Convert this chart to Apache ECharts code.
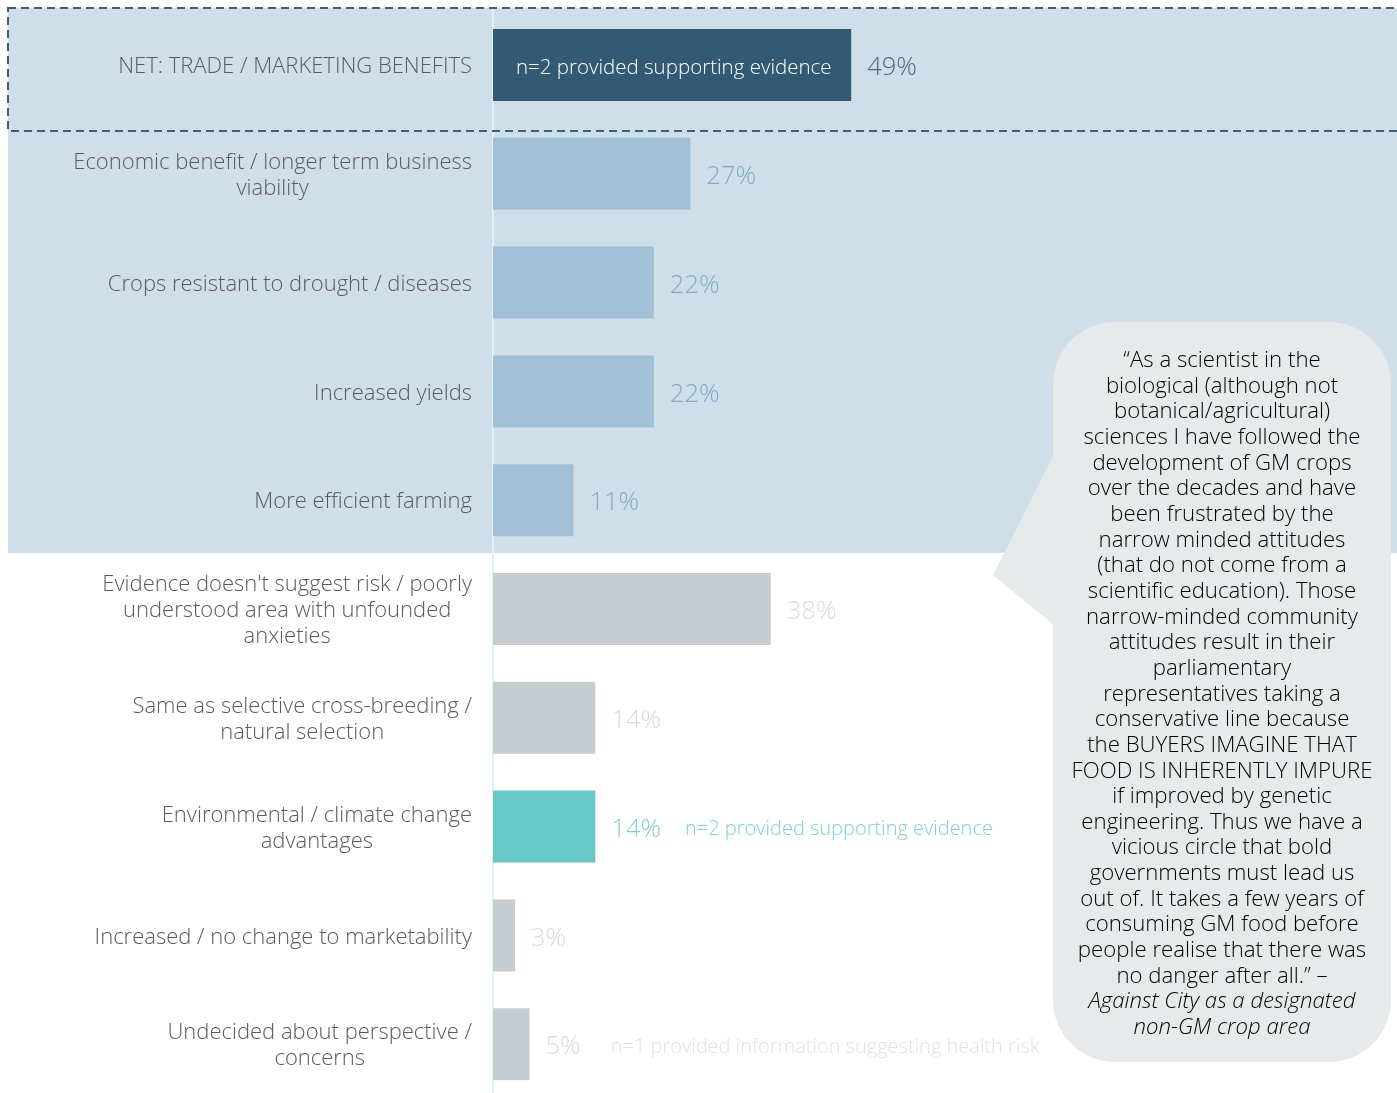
<!DOCTYPE html>
<html><head><meta charset="utf-8">
<script src="https://cdn.jsdelivr.net/npm/echarts@6/dist/echarts.min.js"></script>
<style>html,body{margin:0;padding:0;background:#fff}#c{width:1397px;height:1093px}</style>
</head><body><div id="c"></div>
<script>
var categories = [
  "NET: TRADE / MARKETING BENEFITS",
  "Economic benefit / longer term business\nviability",
  "Crops resistant to drought / diseases",
  "Increased yields",
  "More efficient farming",
  "Evidence doesn't suggest risk / poorly\nunderstood area with unfounded\nanxieties",
  "Same as selective cross-breeding /\nnatural selection",
  "Environmental / climate change\nadvantages",
  "Increased / no change to marketability",
  "Undecided about perspective /\nconcerns"
];
var values = [49, 27, 22, 22, 11, 38, 14, 14, 3, 5];
var insideNotes = ["n=2 provided supporting evidence", "", "", "", "", "", "", "", "", ""];
var sideNotes = ["", "", "", "", "", "", "", "n=2 provided supporting evidence", "", "n=1 provided information suggesting health risk"];
var quoteLines = [
  "\u201CAs a scientist in the",
  "biological (although not",
  "botanical/agricultural)",
  "sciences I have followed the",
  "development of GM crops",
  "over the decades and have",
  "been frustrated by the",
  "narrow minded attitudes",
  "(that do not come from a",
  "scientific education). Those",
  "narrow-minded community",
  "attitudes result in their",
  "parliamentary",
  "representatives taking a",
  "conservative line because",
  "the BUYERS IMAGINE THAT",
  "FOOD IS INHERENTLY IMPURE",
  "if improved by genetic",
  "engineering. Thus we have a",
  "vicious circle that bold",
  "governments must lead us",
  "out of. It takes a few years of",
  "consuming GM food before",
  "people realise that there was",
  "no danger after all.\u201D \u2013"
];
var quoteSource = ["Against City as a designated", "non-GM crop area"];

var FONT = "Open Sans";
var barColors = ["#335a73", "#a1c0d5", "#a1c0d5", "#a1c0d5", "#a1c0d5", "#c5cdd1", "#c5cdd1", "#66c8c8", "#c5cdd1", "#c5cdd1"];
var labelColors = ["#4a6a82", "#82aac6", "#82aac6", "#82aac6", "#82aac6", "#d6dbde", "#d6dbde", "#7dd3d3", "#d6dbde", "#d6dbde"];
var noteColors = ["", "", "", "", "", "", "", "#7dd3d3", "", "#dfe3e5"];

var chart = echarts.init(document.getElementById('c'), null, {renderer: 'canvas'});

var quoteText = quoteLines.map(function (l) { return '{n|' + l + '}'; }).join('\n') + '\n' +
  quoteSource.map(function (l) { return '{i|' + l + '}'; }).join('\n');

var option = {
  animation: false,
  grid: {left: 493, top: 10.6, width: 731, height: 1088, containLabel: false, outerBoundsMode: 'none'},
  xAxis: {type: 'value', min: 0, max: 100, show: false},
  yAxis: {
    type: 'category', data: categories, inverse: true,
    axisLine: {show: true, lineStyle: {color: '#e2f2f4', width: 2}},
    axisTick: {show: false},
    axisLabel: {
      margin: 21, color: '#5a5a5a', fontFamily: FONT, fontSize: 22, fontWeight: 300,
      padding: [4, 0, 0, 0],
      formatter: function (v) {
        return v.split('\n').map(function (l) { return '{a|' + l + '}'; }).join('\n');
      },
      rich: {a: {align: 'center', fontFamily: FONT, fontSize: 22, fontWeight: 300, color: '#5a5a5a', lineHeight: 26}}
    }
  },
  series: [
    {
      type: 'bar', barWidth: 72, z: 3,
      data: values.map(function (v, i) {
        return {value: v, itemStyle: {color: barColors[i]}};
      }),
      label: {
        show: true, position: 'right', distance: 16, offset: [0, 3],
        formatter: function (p) {
          var i = p.dataIndex;
          var s = '{v' + i + '|' + p.value + '%}';
          if (sideNotes[i]) s += '{n' + i + '|' + sideNotes[i] + '}';
          return s;
        },
        rich: (function () {
          var r = {};
          for (var i = 0; i < values.length; i++) {
            r['v' + i] = {color: labelColors[i], fontFamily: FONT, fontSize: 25.5, fontWeight: 300};
            r['n' + i] = {color: noteColors[i] || '#ccc', fontFamily: FONT, fontSize: 20, fontWeight: 300, padding: [0, 0, 0, i === 9 ? 30 : 24]};
          }
          return r;
        })()
      }
    },
    {
      type: 'bar', barWidth: 72, barGap: '-100%', z: 4,
      data: values.map(function (v, i) {
        return {value: insideNotes[i] ? v : 0, itemStyle: {color: 'rgba(0,0,0,0)'}};
      }),
      label: {
        show: true, position: 'insideLeft', distance: 23, offset: [0, 3],
        color: '#ffffff', fontFamily: FONT, fontSize: 20.5, fontWeight: 300,
        formatter: function (p) { return insideNotes[p.dataIndex]; }
      },
      silent: true
    }
  ],
  graphic: [
    {type: 'rect', z: -10, shape: {x: 8, y: 8, width: 1389, height: 545}, style: {fill: '#cfdfe9'}},
    {type: 'rect', z: 10, shape: {x: 8, y: 8, width: 1400, height: 123}, style: {fill: 'none', stroke: '#3d5f78', lineWidth: 2, lineDash: [8, 5]}},
    {type: 'polygon', z: 20, shape: {points: [[1060, 443], [993, 575], [1060, 630]]}, style: {fill: '#e6eaeb'}},
    {type: 'rect', z: 20, shape: {x: 1053, y: 322, width: 338, height: 740, r: 62}, style: {fill: '#e6eaeb'}},
    {
      type: 'text', z: 30, x: 1222, y: 348,
      style: {
        text: quoteText, textAlign: 'center', textVerticalAlign: 'top',
        rich: {
          n: {fontFamily: FONT, fontSize: 22.2, fontWeight: 300, color: '#4f7189', lineHeight: 25.65, align: 'center'},
          i: {fontFamily: FONT, fontSize: 22.2, fontWeight: 300, fontStyle: 'italic', color: '#4f7189', lineHeight: 25.65, align: 'center'}
        }
      }
    }
  ]
};
chart.setOption(option);
</script>
</body></html>
